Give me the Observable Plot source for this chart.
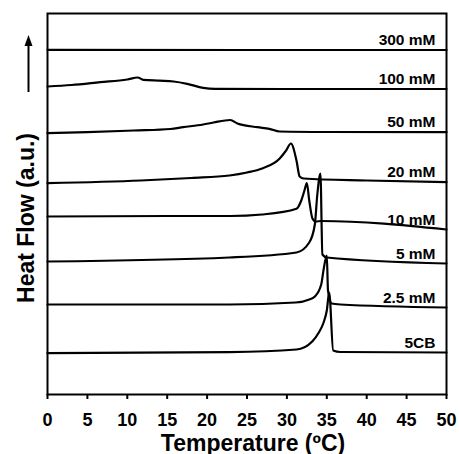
<!DOCTYPE html>
<html><head><meta charset="utf-8">
<script src="https://cdn.jsdelivr.net/npm/d3@7"></script>
<script src="https://cdn.jsdelivr.net/npm/@observablehq/plot@0.6"></script>
<style>
html,body{margin:0;padding:0;background:#fff;}
svg text{font-weight:bold;}
</style></head><body><div id="chart"></div>
<script>
// [temperature °C, heat flow (a.u., offset)]
const s5CB  = [[0,41.3],[22.8,42.3],[31.2,45],[33.2,53.3],[34.0,62],[34.6,72],[35.0,84],[35.3,102],[35.8,44],[36.7,42.5],[50,42]];
const s2p5  = [[0,90],[22.8,90],[31.1,92],[32.8,95],[33.5,98],[34.3,110],[34.6,125],[35,139],[35.15,104],[35.6,91],[36.7,90],[50,87]];
const s5    = [[0,133],[22.8,137],[31.2,142],[32.8,152],[33.5,170],[33.8,199],[34.2,221],[34.45,140],[35,137],[50,131]];
const s10   = [[0,178],[15,178.5],[22.9,178.5],[26.9,180],[31.2,185.7],[31.8,194],[32.2,204],[32.5,211.3],[32.8,194],[33.2,176],[33.6,173],[34.3,173.5],[50,165]];
const s20   = [[0,211.3],[11.7,214],[18,216.5],[22.8,219],[25,222],[26.9,226],[29.1,236],[29.9,244],[30.5,251],[31.2,234],[31.6,218],[32.1,216],[40,214],[50,212.3]];
const s50   = [[0,261.3],[5,262.3],[10.8,264],[15.4,265.5],[17,267.3],[19.5,270],[20.8,272],[22.9,274.5],[23.8,271],[26.3,267.3],[27.8,265.7],[29.1,263],[35,262.5],[50,262.3]];
const s100  = [[0,308],[3,309.5],[6.6,312.3],[10,315],[11.3,317],[12,314.7],[14,313.8],[15.8,313],[17.5,310.7],[19.5,306.7],[21,305.7],[30,305.5],[50,305.5]];
const s300  = [[0,344.7],[25,344.5],[50,344.5]];

const seriesNames = ["5CB","2.5 mM","5 mM","10 mM","20 mM","50 mM","100 mM","300 mM"];
const seriesData  = [s5CB, s2p5, s5, s10, s20, s50, s100, s300];
const xTicks = [0,5,10,15,20,25,30,35,40,45,50];
const xTitle = "Temperature (ºC)";
const yTitle = "Heat Flow (a.u.)";

const rows = seriesNames.flatMap((name, i) => seriesData[i].map(([T, v]) => ({series: name, T, v})));
const labels = seriesNames.map((name, i) => ({series: name, v: seriesData[i][seriesData[i].length - 1][1]}));

const arrowHead = {draw(ctx){ ctx.moveTo(0,-5.5); ctx.lineTo(4,5.5); ctx.lineTo(-4,5.5); ctx.closePath(); }};

const chart = Plot.plot({
  width: 459, height: 454,
  marginLeft: 47, marginRight: 13, marginTop: 13, marginBottom: 60,
  style: {fontFamily: "'Liberation Sans', Arial, sans-serif", background: "#fff", color: "#000"},
  x: {domain: [0, 50]},
  y: {domain: [0, 381], axis: null},
  marks: [
    Plot.line(rows, {x: "T", y: "v", z: "series", stroke: "#000", strokeWidth: 2.2, curve: "monotone-x"}),
    Plot.frame({stroke: "#000", strokeWidth: 2}),
    Plot.axisX({ticks: xTicks, tickSize: 5, tickPadding: 14, fontSize: 18, strokeWidth: 2, label: null, tickFormat: d => String(d)}),
    Plot.text(labels, {frameAnchor: "right", dx: -11, y: "v", dy: -5, text: "series", textAnchor: "end", lineAnchor: "bottom", fontSize: 15.5}),
    Plot.text([xTitle], {frameAnchor: "bottom", dy: 56, dx: 6, textAnchor: "middle", lineAnchor: "bottom", fontSize: 23, text: d => d}),
    Plot.text([yTitle], {frameAnchor: "left", rotate: -90, dx: -13.5, dy: 14, textAnchor: "middle", lineAnchor: "bottom", fontSize: 23, text: d => d}),
    Plot.ruleX([0], {x: d => d, y1: 302, y2: 350, dx: -19, stroke: "#000", strokeWidth: 2}),
    Plot.dot([354], {frameAnchor: "left", y: d => d, dx: -19, symbol: arrowHead, fill: "#000", stroke: "none", r: 3})
  ]
});
document.getElementById("chart").appendChild(chart);
</script></body></html>
